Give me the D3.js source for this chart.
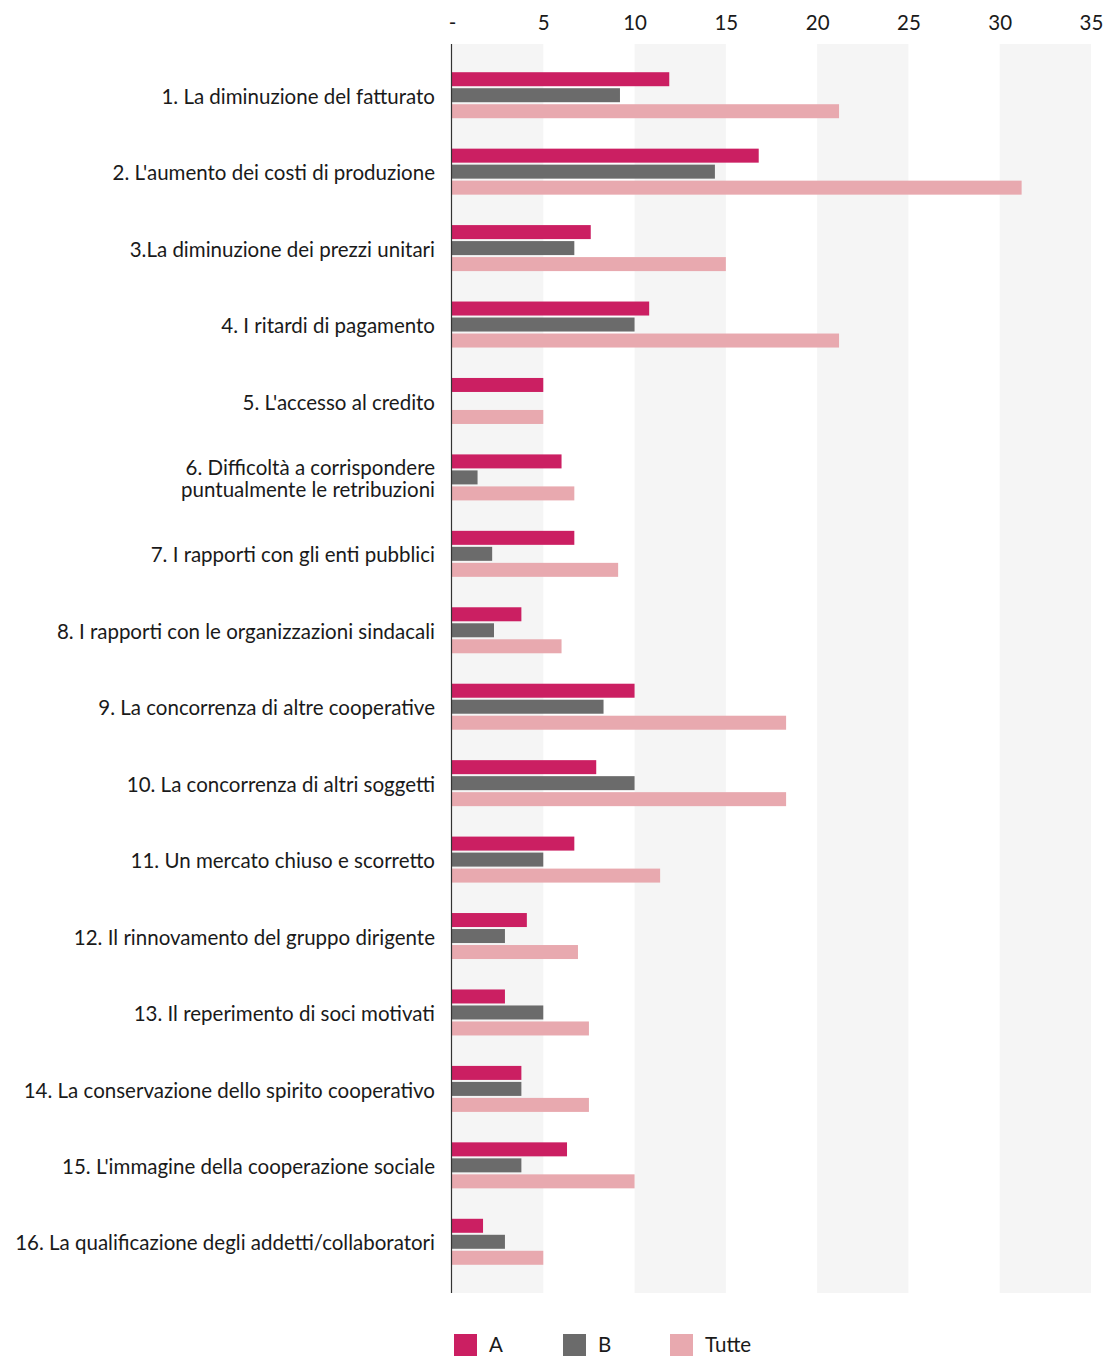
<!DOCTYPE html>
<html>
<head>
<meta charset="utf-8">
<script src="https://cdn.jsdelivr.net/npm/d3@7"></script>
<style>
  body { margin: 0; background: #fff; }
  svg text { font-family: Lato, 'Open Sans', sans-serif; fill: #1a1a1a; }
</style>
</head>
<body>
<div id="chart"></div>
<script>
const width = 1104
const height = 1356

// categories (a '\n' splits a label on two lines)
const categories = [
  '1. La diminuzione del fatturato',
  "2. L'aumento dei costi di produzione",
  '3.La diminuzione dei prezzi unitari',
  '4. I ritardi di pagamento',
  "5. L'accesso al credito",
  '6. Difficoltà a corrispondere\npuntualmente le retribuzioni',
  '7. I rapporti con gli enti pubblici',
  '8. I rapporti con le organizzazioni sindacali',
  '9. La concorrenza di altre cooperative',
  '10. La concorrenza di altri soggetti',
  '11. Un mercato chiuso e scorretto',
  '12. Il rinnovamento del gruppo dirigente',
  '13. Il reperimento di soci motivati',
  '14. La conservazione dello spirito cooperativo',
  "15. L'immagine della cooperazione sociale",
  '16. La qualificazione degli addetti/collaboratori'
]

const seriesNames = ['A', 'B', 'Tutte']
const valuesA = [11.9, 16.8, 7.6, 10.8, 5.0, 6.0, 6.7, 3.8, 10.0, 7.9, 6.7, 4.1, 2.9, 3.8, 6.3, 1.7]
const valuesB = [9.2, 14.4, 6.7, 10.0, 0, 1.4, 2.2, 2.3, 8.3, 10.0, 5.0, 2.9, 5.0, 3.8, 3.8, 2.9]
const valuesTutte = [21.2, 31.2, 15.0, 21.2, 5.0, 6.7, 9.1, 6.0, 18.3, 18.3, 11.4, 6.9, 7.5, 7.5, 10.0, 5.0]
const tickValues = [0, 5, 10, 15, 20, 25, 30, 35]

const colors = ['#cb1f62', '#6b6b6b', '#e8a9af']
const allSeries = [valuesA, valuesB, valuesTutte]

const plotTop = 44
const plotBottom = 1293
const fontSize = 20.5

const svg = d3.select('#chart').append('svg')
  .attr('width', width)
  .attr('height', height)

const x = d3.scaleLinear().domain([0, 35]).range([452, 1091])
const y = d3.scalePoint().domain(categories).range([plotTop, plotBottom]).padding(0.67)

// alternating background bands
const bands = d3.range(0, 35, 10)
svg.append('g')
  .selectAll('rect')
  .data(bands)
  .join('rect')
  .attr('x', d => x(d))
  .attr('y', plotTop)
  .attr('width', d => x(d + 5) - x(d))
  .attr('height', plotBottom - plotTop)
  .attr('fill', '#f5f5f5')

// top axis
const xAxis = d3.axisTop(x)
  .tickValues(tickValues)
  .tickSize(0)
  .tickFormat(d => d === 0 ? '-' : d)

svg.append('g')
  .attr('transform', 'translate(0,33)')
  .call(xAxis)
  .call(g => g.select('.domain').remove())
  .selectAll('text')
  .attr('font-size', fontSize)
  .attr('font-family', null)
  .attr('fill', '#1a1a1a')

// bars
const barH = 14
const barStep = 16
seriesNames.forEach((name, s) => {
  svg.append('g')
    .attr('class', 'series-' + name)
    .selectAll('rect')
    .data(allSeries[s])
    .join('rect')
    .attr('x', x(0))
    .attr('y', (d, i) => y(categories[i]) + (s - 1) * barStep - barH / 2)
    .attr('width', d => x(d) - x(0))
    .attr('height', barH)
    .attr('fill', colors[s])
})

// vertical axis line
svg.append('line')
  .attr('x1', x(0) - 0.5)
  .attr('x2', x(0) - 0.5)
  .attr('y1', plotTop)
  .attr('y2', plotBottom)
  .attr('stroke', '#333')
  .attr('stroke-width', 1.2)

// category labels
const labels = svg.append('g')
  .selectAll('text')
  .data(categories)
  .join('text')
  .attr('x', 435)
  .attr('y', d => y(d))
  .attr('text-anchor', 'end')
  .attr('font-size', fontSize)

labels.each(function (d) {
  const lines = d.split('\n')
  const t = d3.select(this)
  lines.forEach((line, k) => {
    t.append('tspan')
      .attr('x', 435)
      .attr('dy', k === 0 ? (0.42 - (lines.length - 1) * 0.56) + 'em' : '1.12em')
      .text(line)
  })
})

// legend
const legendX = [454, 563, 670]
const legend = svg.append('g')
  .selectAll('g')
  .data(seriesNames)
  .join('g')
  .attr('transform', (d, i) => `translate(${legendX[i]},1334)`)

legend.append('rect')
  .attr('width', 23)
  .attr('height', 22)
  .attr('fill', (d, i) => colors[i])

legend.append('text')
  .attr('x', 35)
  .attr('y', 11)
  .attr('dy', '0.35em')
  .attr('font-size', fontSize)
  .text(d => d)
</script>
</body>
</html>
